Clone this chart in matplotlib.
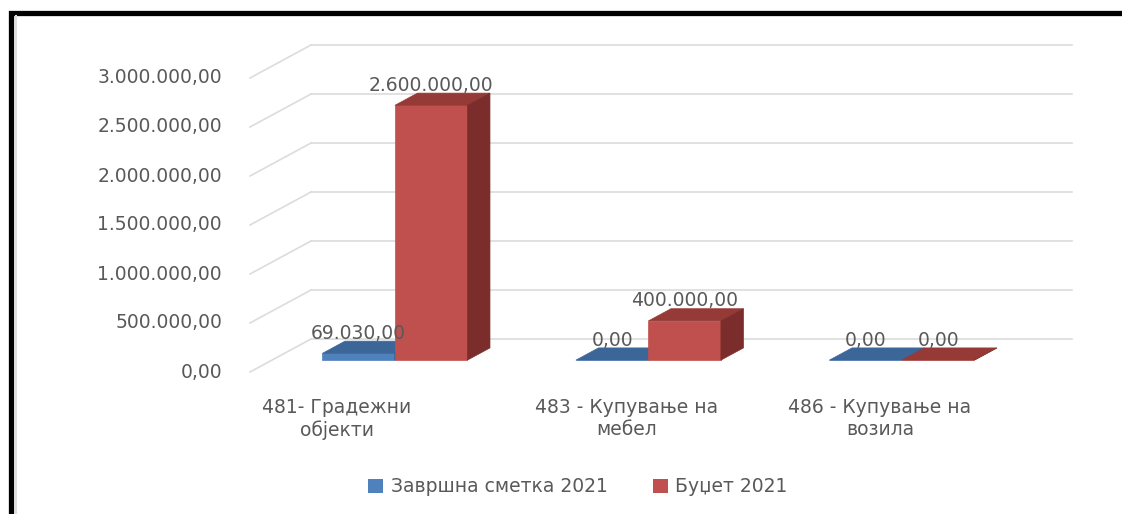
import matplotlib.pyplot as plt
from matplotlib.patches import Polygon, Rectangle, Patch
from matplotlib.lines import Line2D

categories = ["481- Градежни\nобјекти", "483 - Купување на\nмебел", "486 - Купување на\nвозила"]
series_names = ["Завршна сметка 2021", "Буџет 2021"]
zavrsna_smetka = [69030.00, 0.00, 0.00]
budzet = [2600000.00, 400000.00, 0.00]
y_ticks = [0, 500000, 1000000, 1500000, 2000000, 2500000, 3000000]

TEXT = "#595959"
GRID = "#dcdcdc"
# front, top, side shades for each series
BLUE = ("#4f81bd", "#3c6698", "#2f5280")
RED = ("#c0504d", "#963a37", "#7b2d2b")


def fmt(v):
    s = f"{v:,.2f}"
    return s.replace(",", " ").replace(".", ",").replace(" ", ".")


W, H = 1122, 514
fig = plt.figure(figsize=(W / 100, H / 100), dpi=100)
plt.rcParams["font.family"] = ["DejaVu Sans"]
FS = 13.5

# front plane of the floor/value axis
ax = fig.add_axes([250 / W, 142 / H, 761 / W, 294 / H])
xmin, xmax = -0.485, 2.517
ax.set_xlim(xmin, xmax)
ax.set_ylim(0, 3000000)
ax.axis("off")

# depth of the box (pixels) converted to data units
px_x = ax.bbox.width / (xmax - xmin)
px_y = ax.bbox.height / 3000000
DX = 61 / px_x
DY = 33 / px_y
d0, d1 = 0.36, 0.73
bar_w = 0.286


def P(x, y, d):
    return (x + d * DX, y + d * DY)


# walls: diagonal on the side wall, horizontal on the back wall
for v in y_ticks:
    ax.add_line(Line2D([xmin, xmin + DX], [v, v + DY], color=GRID, lw=1.2, clip_on=False, zorder=1))
    ax.add_line(Line2D([xmin + DX, xmax + DX], [v + DY, v + DY], color=GRID, lw=1.2, clip_on=False, zorder=1))
    ax.annotate(fmt(v), xy=(xmin, v), xytext=(-28, 0), textcoords="offset pixels",
                ha="right", va="center", fontsize=FS, color=TEXT)


def bar3d(x0, x1, v, shades):
    front, top, side = shades
    faces = [
        ([P(x0, 0, d0), P(x1, 0, d0), P(x1, v, d0), P(x0, v, d0)], front),
        ([P(x0, v, d0), P(x1, v, d0), P(x1, v, d1), P(x0, v, d1)], top),
        ([P(x1, 0, d0), P(x1, 0, d1), P(x1, v, d1), P(x1, v, d0)], side),
    ]
    for pts, c in faces:
        ax.add_patch(Polygon(pts, closed=True, facecolor=c, edgecolor=c, lw=0.5,
                             clip_on=False, zorder=3))


for i in range(len(categories)):
    bar3d(i - bar_w, i, zavrsna_smetka[i], BLUE)
    bar3d(i, i + bar_w, budzet[i], RED)

# the first wrapped label sits a little left of its group
label_shift = [-36, 0, 0]

for i in range(len(categories)):
    for x0, v in ((i - bar_w, zavrsna_smetka[i]), (i, budzet[i])):
        ax.annotate(fmt(v), xy=P(x0 + bar_w / 2, v, d0), xytext=(0, 20), textcoords="offset pixels",
                    ha="center", va="center", fontsize=FS, color=TEXT, zorder=5)
    ax.annotate(categories[i], xy=(i, 0), xytext=(label_shift[i], -26), textcoords="offset pixels",
                ha="center", va="top", multialignment="center", fontsize=FS, color=TEXT,
                linespacing=1.2)

handles = [Patch(facecolor=BLUE[0]), Patch(facecolor=RED[0])]
fig.legend(handles, series_names, loc="center", bbox_to_anchor=(578 / W, 27 / H), ncol=2,
           frameon=False, fontsize=FS, handlelength=0.8, handleheight=0.8,
           handletextpad=0.4, columnspacing=2.4, labelcolor=TEXT)

# black frame, open to the right and bottom
fig.patches.append(Rectangle((10.5 / W, -0.2), 1.5, 1.2 - 13.5 / H, transform=fig.transFigure,
                             fill=False, edgecolor="black", lw=3.8))
fig.add_artist(Line2D([15.5 / W, 15.5 / W], [0, 1 - 16 / H], color="#dddddd", lw=1.5,
                      transform=fig.transFigure))

fig.savefig("out.png", dpi=100)
